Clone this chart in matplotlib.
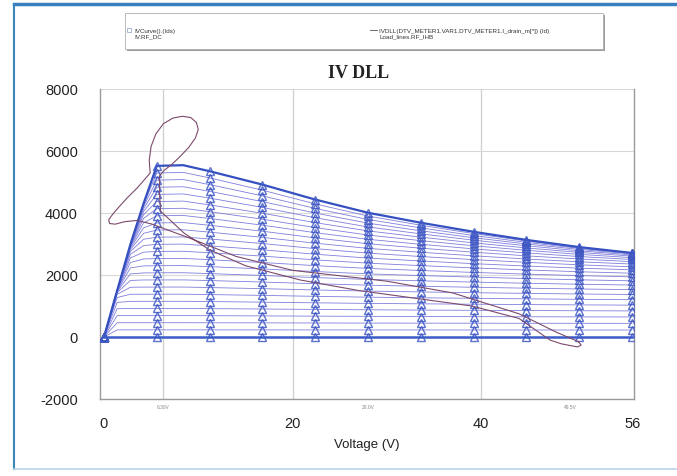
"""IV DLL: семейство ВАХ с линией нагрузки"""

import matplotlib
matplotlib.use("Agg")
import matplotlib.pyplot as plt
from matplotlib.patches import Rectangle
from matplotlib.lines import Line2D

plt.rcParams['font.family'] = ['Liberation Sans', 'DejaVu Sans']
plt.rcParams['axes.unicode_minus'] = False

# напряжения, в которых сняты точки кривых (0 В добавляется ниже)
volts = [1.4, 2.8, 4.2, 5.6, 8.4, 11.2, 16.8, 22.4, 28, 33.6, 39.2, 44.8, 50.4, 56]

# ток стока (mA) для каждой кривой, снизу вверх
iv_curves = [
    [0, 0, 0, 0, 0, 0, 0, 0, 0, 0, 0, 0, 0, 0],
    [230, 230, 230, 230, 230, 230, 229, 228, 227, 227, 226, 226, 225, 225],
    [460, 460, 460, 460, 460, 459, 456, 452, 449, 447, 445, 443, 442, 440],
    [689, 690, 690, 690, 690, 687, 681, 673, 666, 661, 657, 653, 649, 646],
    [912, 920, 920, 920, 921, 915, 903, 890, 878, 869, 861, 854, 847, 842],
    [1115, 1150, 1150, 1150, 1151, 1143, 1124, 1103, 1084, 1070, 1058, 1046, 1036, 1028],
    [1275, 1378, 1380, 1380, 1381, 1369, 1342, 1312, 1285, 1265, 1247, 1231, 1216, 1204],
    [1378, 1604, 1610, 1610, 1612, 1595, 1559, 1518, 1481, 1454, 1429, 1407, 1387, 1371],
    [1436, 1824, 1840, 1840, 1842, 1821, 1773, 1719, 1672, 1636, 1604, 1575, 1549, 1528],
    [1465, 2035, 2067, 2070, 2073, 2046, 1985, 1917, 1857, 1812, 1771, 1734, 1702, 1675],
    [1480, 2230, 2293, 2300, 2304, 2270, 2195, 2112, 2037, 1982, 1931, 1886, 1845, 1812],
    [1487, 2403, 2517, 2530, 2535, 2494, 2403, 2302, 2212, 2145, 2083, 2028, 1980, 1940],
    [1492, 2549, 2736, 2760, 2766, 2717, 2609, 2489, 2382, 2302, 2228, 2163, 2105, 2058],
    [1494, 2667, 2949, 2990, 2997, 2940, 2813, 2671, 2546, 2452, 2366, 2289, 2221, 2166],
    [1495, 2756, 3153, 3220, 3228, 3162, 3015, 2851, 2705, 2596, 2496, 2408, 2328, 2264],
    [1496, 2822, 3344, 3450, 3459, 3383, 3214, 3026, 2859, 2734, 2619, 2517, 2426, 2353],
    [1496, 2871, 3522, 3680, 3690, 3604, 3412, 3197, 3008, 2865, 2735, 2619, 2515, 2432],
    [1497, 2906, 3682, 3910, 3921, 3824, 3607, 3365, 3151, 2990, 2843, 2712, 2595, 2501],
    [1497, 2930, 3824, 4140, 4152, 4043, 3800, 3529, 3289, 3108, 2943, 2797, 2666, 2560],
    [1497, 2947, 3947, 4370, 4384, 4262, 3992, 3689, 3422, 3221, 3037, 2873, 2728, 2610],
    [1498, 2960, 4049, 4600, 4615, 4481, 4181, 3846, 3550, 3327, 3123, 2942, 2780, 2649],
    [1498, 2969, 4134, 4830, 4847, 4699, 4368, 3999, 3672, 3426, 3201, 3002, 2824, 2680],
    [1498, 2975, 4205, 5060, 5079, 4916, 4553, 4148, 3789, 3519, 3272, 3054, 2858, 2700],
    [1498, 2980, 4261, 5290, 5310, 5132, 4735, 4293, 3901, 3606, 3336, 3097, 2883, 2710],
    [1498, 2985, 4307, 5520, 5542, 5348, 4916, 4434, 4008, 3686, 3393, 3132, 2900, 2711],
]

# линия нагрузки (динамическая)
load_v = [50.3, 48.0, 44.0, 37.0, 30.0, 20.0, 14.0, 9.0, 5.0, 3.5, 2.2, 1.2, 0.6, 0.5,
          0.9, 1.6, 2.5, 3.5, 4.3, 4.9, 4.8, 5.0, 5.5, 6.3, 7.3, 8.3, 9.2, 9.8, 10.0,
          9.7, 9.0, 8.1, 7.2, 6.4, 5.9, 5.9, 6.0, 8.5, 11.2, 15.0, 20.8, 27.0, 33.0,
          39.0, 44.0, 47.3, 48.5, 50.2, 50.6, 50.3]
load_i = [-150, 150, 750, 1420, 1800, 2150, 2600, 3200, 3650, 3760, 3720, 3640, 3660, 3780,
          3950, 4200, 4500, 4800, 5080, 5290, 5700, 6150, 6550, 6880, 7060, 7120, 7080, 6920, 6700,
          6420, 6120, 5830, 5570, 5380, 5200, 4600, 4060, 3350, 2810, 2300, 1840, 1500, 1250,
          1000, 600, -100, -220, -320, -260, -150]

x_ticks = [0, 20, 40, 56]
y_ticks = [-2000, 0, 2000, 4000, 6000, 8000]
marker_cols = [0, 4, 6, 7, 8, 9, 10, 11, 12, 13, 14]  # индексы точек с маркерами

W, H = 677, 477


def fx(px):
    return px / W


def fy(py):
    return 1 - py / H


fig = plt.figure(figsize=(W / 100, H / 100), dpi=100)
fig.patch.set_facecolor('white')

# рамка скриншота
fig.add_artist(Line2D([fx(14), fx(14)], [fy(6), fy(470)], color='#3d86b8', lw=1.5))
fig.add_artist(Line2D([fx(14), 1], [fy(5), fy(5)], color='#3a7fc0', lw=2.5))
fig.add_artist(Line2D([fx(14), 1], [fy(470), fy(470)], color='#b9d3ea', lw=1.2))

ax = fig.add_axes([fx(100), fy(400), fx(634) - fx(100), fy(90) - fy(400)])

v_all = [0.0] + volts
for k, row in enumerate(iv_curves):
    i_all = [0] + row
    top = k == len(iv_curves) - 1
    ax.plot(v_all, i_all, color='#3550c0' if top else '#7070d8',
            lw=1.6 if top else 0.6, alpha=1.0 if top else 0.9, zorder=3)
    ax.plot(v_all, i_all, ls='none', marker='^', markevery=marker_cols, ms=5.2,
            mfc='none', mec='#3f58c4', mew=1.0, alpha=0.85, zorder=4)
ax.plot(v_all, [0] * len(v_all), color='#3b5bc8', lw=1.8, zorder=4)

ax.plot(load_v, load_i, color='#7d4a6c', lw=0.8, zorder=5)

ax.set_xlim(-0.42, 56.2)
ax.set_ylim(-2000, 8000)
ax.set_xticks(x_ticks)
ax.set_yticks(y_ticks)
ax.tick_params(length=0, labelsize=10.5, colors='#222222')
ax.tick_params(axis='y', pad=16)
ax.tick_params(axis='x', pad=12)
ax.set_xlabel('Voltage (V)', fontsize=9.5, color='#222222', labelpad=6)

ax.grid(True, axis='y', color='#d8d8d8', lw=0.8, zorder=0)
for gx in [6.3, 20, 40]:
    ax.axvline(gx, color='#cfcfcf', lw=0.9, zorder=0)
for s in ['left', 'right', 'bottom']:
    ax.spines[s].set_color('#9a9a9a')
    ax.spines[s].set_linewidth(1.0)
ax.spines['top'].set_visible(False)

# мелкие подписи маркеров под осью
for gx, txt in [(6.3, '6.30V'), (28.0, '28.0V'), (49.5, '49.5V')]:
    ax.text(gx, -2250, txt, fontsize=3.5, color='#888888', ha='center', va='center')

fig.text(fx(359), fy(73), 'IV DLL', family='Liberation Serif', fontweight='bold',
         fontsize=13, ha='center', va='center', color='#222222')

# легенда
fig.add_artist(Rectangle((fx(127), fy(52)), fx(605) - fx(127), fy(16) - fy(52),
                         transform=fig.transFigure, facecolor='#9a9a9a', edgecolor='none'))
fig.add_artist(Rectangle((fx(125), fy(50)), fx(603) - fx(125), fy(14) - fy(50),
                         transform=fig.transFigure, facecolor='white', edgecolor='#b0b0b0', lw=0.6))
fig.add_artist(Line2D([fx(129)], [fy(31)], marker='s', ms=3, mfc='none', mec='#9aaad8', mew=0.6))
fig.text(fx(134), fy(31), 'IVCurve().(Ids)', fontsize=4.5, va='center', color='#333333')
fig.text(fx(134), fy(37), 'IV.RF_DC', fontsize=4.5, va='center', color='#333333')
fig.add_artist(Line2D([fx(370), fx(377)], [fy(31), fy(31)], color='#555555', lw=0.6))
fig.text(fx(379), fy(31), 'IVDLL(DTV_METER1.VAR1.DTV_METER1.I_drain_m[*]) (Id)', fontsize=4.5,
         va='center', color='#333333')
fig.text(fx(379), fy(37), 'Load_lines.RF_IHB', fontsize=4.5, va='center', color='#333333')

fig.savefig('out.png', dpi=100)
